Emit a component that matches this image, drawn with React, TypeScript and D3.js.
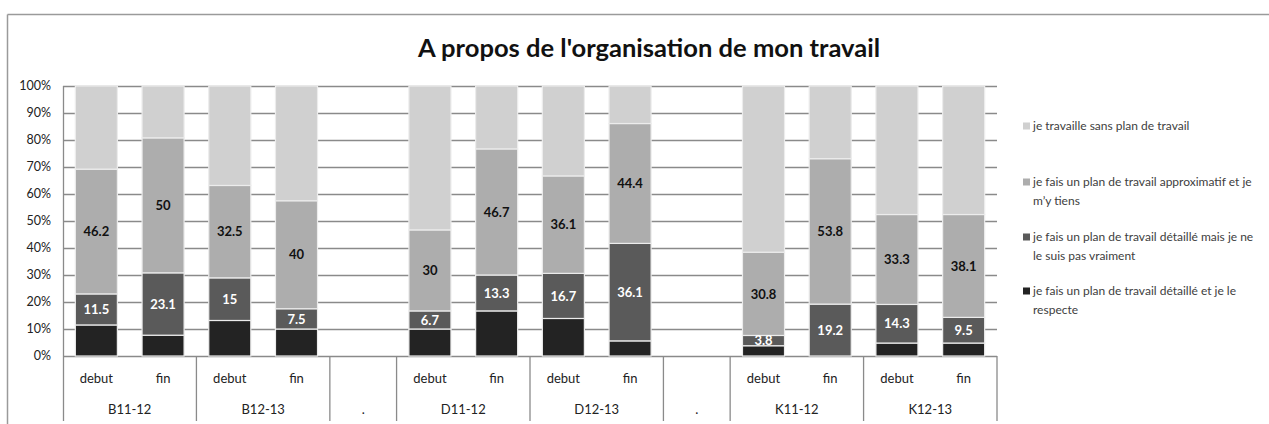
import React, { useEffect } from "react";
import * as d3 from "d3";

// ---- data ----
const groups = ["B11-12", "B12-13", ".", "D11-12", "D12-13", ".", "K11-12", "K12-13"];
const phases = ["debut", "fin"];
const barGroups = ["B11-12", "B11-12", "B12-13", "B12-13", "D11-12", "D11-12", "D12-13", "D12-13", "K11-12", "K11-12", "K12-13", "K12-13"];
const barPhases = ["debut", "fin", "debut", "fin", "debut", "fin", "debut", "fin", "debut", "fin", "debut", "fin"];
const respecte = [11.5, 7.7, 12.5, 10, 10, 16.7, 13.9, 5.6, 3.8, 0, 4.8, 4.8];
const pasVraiment = [11.5, 23.1, 15, 7.5, 6.7, 13.3, 16.7, 36.1, 3.8, 19.2, 14.3, 9.5];
const approximatif = [46.2, 50, 32.5, 40, 30, 46.7, 36.1, 44.4, 30.8, 53.8, 33.3, 38.1];
const sansPlan = [30.8, 19.2, 35, 42.5, 53.3, 23.3, 33.3, 13.9, 61.5, 26.9, 47.6, 47.6];
const seriesKeys = ["respecte", "pasVraiment", "approximatif", "sansPlan"];
const seriesLegend = [
  ["je fais un plan de travail détaillé et je le", "respecte"],
  ["je fais un plan de travail détaillé mais je ne", "le suis pas vraiment"],
  ["je fais un plan de travail approximatif et je", "m’y tiens"],
  ["je travaille sans plan de travail"],
];
const yTicks = [0, 0.1, 0.2, 0.3, 0.4, 0.5, 0.6, 0.7, 0.8, 0.9, 1];
const title = "A propos de l'organisation de mon travail";

// ---- style ----
const colors = ["#232323", "#5a5a5a", "#adadad", "#d0d0d0"];
const labelColors = [null, "#ffffff", "#111111", null];
const FONT = "Lato, 'Open Sans', sans-serif";

const W = 1269;
const H = 424;
const plot = { left: 63, right: 997, top: 86, bottom: 356 };

export default function App() {
  useEffect(() => {
    document.body.style.margin = "0";
  }, []);

  // slots
  const slotKeys: string[] = [];
  const groupSlots: { name: string; keys: string[] }[] = [];
  groups.forEach((g, gi) => {
    const keys = g === "." ? [`${g}#${gi}`] : phases.map((p) => `${g}|${p}`);
    keys.forEach((k) => slotKeys.push(k));
    groupSlots.push({ name: g, keys });
  });

  const x = d3
    .scaleBand<string>()
    .domain(slotKeys)
    .range([plot.left, plot.right])
    .paddingInner(0.37)
    .paddingOuter(0.185);
  const step = x.step();
  const bw = x.bandwidth();
  const y = d3.scaleLinear().domain([0, 1]).range([plot.bottom, plot.top]);

  const rows = barGroups.map((g, i) => ({
    key: `${g}|${barPhases[i]}`,
    respecte: respecte[i],
    pasVraiment: pasVraiment[i],
    approximatif: approximatif[i],
    sansPlan: sansPlan[i],
  }));
  const stacked = d3
    .stack<any>()
    .keys(seriesKeys)
    .offset(d3.stackOffsetExpand)(rows);

  const slotStart = (k: string) => (x(k) as number) - (step * 0.37) / 2;

  const legendTop = [126, 182, 237, 291];
  const lineH = 18.5;

  return (
    <svg
      width={W}
      height={H}
      style={{ position: "absolute", left: 0, top: 0, display: "block", background: "#fff" }}
      fontFamily={FONT}
    >
      {/* frame */}
      <line x1={7.5} x2={W} y1={14.5} y2={14.5} stroke="#9a9a9a" strokeWidth={1.5} />
      <line x1={7.5} x2={7.5} y1={14.5} y2={H} stroke="#9a9a9a" strokeWidth={1.5} />

      {/* title */}
      <text
        x={649}
        y={57}
        textAnchor="middle"
        fontSize={25}
        fontWeight="bold"
        fill="#111"
        textLength={462}
        lengthAdjust="spacingAndGlyphs"
      >
        {title}
      </text>

      {/* gridlines */}
      {yTicks.map((t) => (
        <line
          key={t}
          x1={plot.left}
          x2={plot.right}
          y1={Math.round(y(t)) + 0.5}
          y2={Math.round(y(t)) + 0.5}
          stroke="#8a8a8a"
          strokeWidth={1.3}
        />
      ))}
      {/* y tick labels */}
      {yTicks.map((t) => (
        <text
          key={"l" + t}
          x={51}
          y={y(t)}
          dy="0.35em"
          textAnchor="end"
          fontSize={12.5}
          fill="#222"
        >
          {d3.format(".0%")(t)}
        </text>
      ))}

      {/* bars */}
      {stacked.map((s, si) => (
        <g key={s.key} fill={colors[si]}>
          {s.map((d: any, i: number) => {
            const h = y(d[0]) - y(d[1]);
            if (h <= 0) return null;
            return (
              <rect
                key={i}
                x={x(d.data.key)}
                y={y(d[1])}
                width={bw}
                height={h}
                stroke="#ececec"
                strokeWidth={1.2}
              />
            );
          })}
        </g>
      ))}

      {/* data labels */}
      {stacked.map((s, si) =>
        labelColors[si]
          ? s.map((d: any, i: number) => {
              const v = (d.data as any)[s.key];
              if (!v) return null;
              return (
                <text
                  key={s.key + i}
                  x={(x(d.data.key) as number) + bw / 2}
                  y={(y(d[0]) + y(d[1])) / 2}
                  dy="0.36em"
                  textAnchor="middle"
                  fontSize={13}
                  fontWeight="bold"
                  fill={labelColors[si] as string}
                >
                  {v}
                </text>
              );
            })
          : null
      )}

      {/* y axis line */}
      <line x1={plot.left + 0.5} x2={plot.left + 0.5} y1={plot.top} y2={421} stroke="#8a8a8a" strokeWidth={1.3} />

      {/* group separators and labels */}
      {groupSlots.map((g, gi) => {
        const x0 = slotStart(g.keys[0]);
        const x1 = x0 + step * g.keys.length;
        return (
          <g key={gi}>
            <line x1={x1} x2={x1} y1={plot.bottom} y2={421} stroke="#8a8a8a" strokeWidth={1.3} />
            <text x={(x0 + x1) / 2} y={409} dy="0.35em" textAnchor="middle" fontSize={13} fill="#222">
              {g.name}
            </text>
            {g.name !== "."
              ? g.keys.map((k, ki) => (
                  <text
                    key={k}
                    x={(x(k) as number) + bw / 2}
                    y={378}
                    dy="0.35em"
                    textAnchor="middle"
                    fontSize={13}
                    fill="#222"
                  >
                    {phases[ki]}
                  </text>
                ))
              : null}
          </g>
        );
      })}

      {/* legend */}
      {seriesLegend
        .map((lines, si) => ({ lines, si }))
        .reverse()
        .map(({ lines, si }, li) => (
          <g key={si}>
            <rect x={1023} y={legendTop[li] - 3.5} width={7} height={7} fill={colors[si]} />
            {lines.map((ln, k) => (
              <text
                key={k}
                x={1033}
                y={legendTop[li] + k * lineH}
                dy="0.35em"
                fontSize={12}
                fill="#404040"
              >
                {ln}
              </text>
            ))}
          </g>
        ))}
    </svg>
  );
}
